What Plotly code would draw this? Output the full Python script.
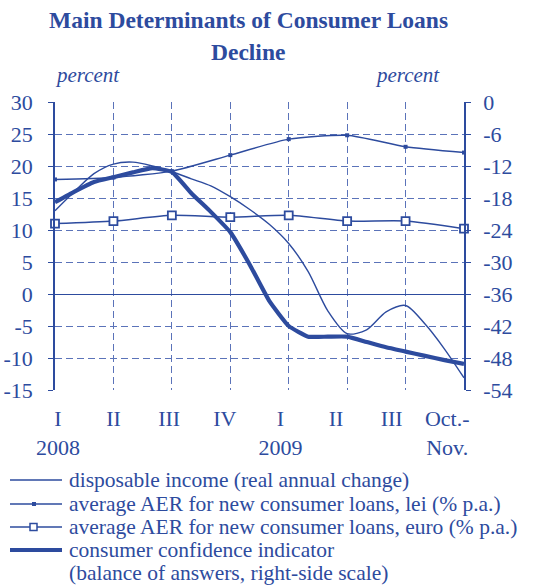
import plotly.graph_objects as go

# ---- data ----
quarter_labels = ["I", "II", "III", "IV", "I", "II", "III", "Oct.-"]
year_labels = ["2008", "", "", "", "2009", "", "", "Nov."]
quarter_pos = [0, 1, 2, 3, 4, 5, 6, 7]

# monthly observations (month index from Q I 2008 = 0, three months per quarter)
months = list(range(22))
disp_income = [13.0, 16.0, 18.8, 20.3, 20.6, 20.0, 19.1, 18.0, 16.9, 15.2, 13.2,
               10.9, 7.9, 3.5, -2.6, -6.2, -5.6, -2.8, -1.8, -4.7, -8.6, -13.1]
confidence = [-18.8, -16.8, -15.0, -14.1, -13.2, -12.4, -13.1, -17.1, -20.6, -24.4, -30.5,
              -37.3, -42.0, -44.0, -44.0, -44.0, -45.0, -46.0, -46.8, -47.6, -48.4, -49.1]

# quarterly observations
aer_lei = [17.9, 18.2, 19.2, 21.7, 24.2, 24.8, 23.0, 22.1]
aer_euro = [11.0, 11.4, 12.3, 12.0, 12.3, 11.4, 11.4, 10.2]

left_ticks = [30, 25, 20, 15, 10, 5, 0, -5, -10, -15]
right_ticks = [0, -6, -12, -18, -24, -30, -36, -42, -48, -54]

title_lines = ["Main Determinants of Consumer Loans", "Decline"]
legend_lines = ["disposable income (real annual change)",
                "average AER for new consumer loans, lei (% p.a.)",
                "average AER for new consumer loans, euro (% p.a.)",
                "consumer confidence indicator",
                "(balance of answers, right-side scale)"]

# ---- style ----
BLUE = "#2D4B9E"
GRID = "#5B73B9"
FONT = "Liberation Serif"
W, H = 549, 585
L, R, T, B = 55, 85, 102, 195
PW, PH = W - L - R, H - T - B


def px_x(px):
    return (px - L) / PW


def px_y(py):
    return (H - B - py) / PH


month_x = [m / 3 for m in months]

fig = go.Figure()

fig.add_trace(go.Scatter(
    x=month_x, y=disp_income, mode="lines", showlegend=False,
    name="disposable income (real annual change)",
    line=dict(color=BLUE, width=1.4, shape="spline", smoothing=0.8),
    cliponaxis=False))

fig.add_trace(go.Scatter(
    x=quarter_pos, y=aer_lei, mode="lines+markers", showlegend=False,
    name="average AER for new consumer loans, lei (% p.a.)",
    line=dict(color=BLUE, width=1.5, shape="spline", smoothing=0.6),
    marker=dict(symbol="square", size=4, color=BLUE, line=dict(width=0)),
    cliponaxis=False))

fig.add_trace(go.Scatter(
    x=quarter_pos, y=aer_euro, mode="lines+markers", showlegend=False,
    name="average AER for new consumer loans, euro (% p.a.)",
    line=dict(color=BLUE, width=1.5, shape="spline", smoothing=0.6),
    marker=dict(symbol="square", size=8, color="white", line=dict(width=1.8, color=BLUE)),
    cliponaxis=False))

fig.add_trace(go.Scatter(
    x=month_x, y=confidence, mode="lines", yaxis="y2", showlegend=False,
    name="consumer confidence indicator (balance of answers, right-side scale)",
    line=dict(color=BLUE, width=4.2, shape="spline", smoothing=0.4),
    cliponaxis=False))

# carrier for the category label axis (no visible marks)
fig.add_trace(go.Scatter(x=quarter_pos, y=[None] * len(quarter_pos), xaxis="x2",
                         mode="lines", showlegend=False, hoverinfo="skip"))

annotations = []
# title
for text, py in zip(title_lines, [20, 52]):
    annotations.append(dict(text="<b>" + text + "</b>", xref="paper", yref="paper",
                            x=px_x(248), y=px_y(py), xanchor="center", yanchor="middle",
                            showarrow=False, font=dict(family=FONT, size=23.5, color=BLUE)))
# axis unit labels
for px in [87, 407]:
    annotations.append(dict(text="<i>percent</i>", xref="paper", yref="paper",
                            x=px_x(px), y=px_y(75), xanchor="center", yanchor="middle",
                            showarrow=False, font=dict(family=FONT, size=21, color=BLUE)))
# legend texts
legend_rows = [480, 504, 527, 550, 573]
for text, py in zip(legend_lines, legend_rows):
    annotations.append(dict(text=text, xref="paper", yref="paper",
                            x=px_x(67), y=px_y(py), xanchor="left", yanchor="middle",
                            showarrow=False, font=dict(family=FONT, size=21.5, color=BLUE)))

# legend symbols
shapes = []
sym_w = [1.4, 1.5, 1.5, 4.2]
for i, w in enumerate(sym_w):
    py = legend_rows[i]
    shapes.append(dict(type="line", xref="paper", yref="paper",
                       x0=px_x(10), x1=px_x(62), y0=px_y(py), y1=px_y(py),
                       line=dict(color=BLUE, width=w)))
# lei dot
shapes.append(dict(type="rect", xref="paper", yref="paper",
                   x0=px_x(32), x1=px_x(36), y0=px_y(legend_rows[1] - 2), y1=px_y(legend_rows[1] + 2),
                   fillcolor=BLUE, line=dict(width=0)))
# euro open square
shapes.append(dict(type="rect", xref="paper", yref="paper",
                   x0=px_x(30), x1=px_x(37), y0=px_y(legend_rows[2] - 3.5), y1=px_y(legend_rows[2] + 3.5),
                   fillcolor="white", line=dict(width=1.5, color=BLUE)))

fig.update_layout(
    width=W, height=H,
    margin=dict(l=L, r=R, t=T, b=B),
    paper_bgcolor="white", plot_bgcolor="white",
    font=dict(family=FONT, color=BLUE, size=20),
    showlegend=False,
    xaxis=dict(range=[0, 7], tickvals=quarter_pos, showticklabels=False,
               showgrid=True, gridcolor=GRID, gridwidth=1, griddash="7px,4px",
               zeroline=False, showline=False, ticks="", automargin=False),
    xaxis2=dict(range=[-0.054, 7.302], overlaying="x", anchor="y", side="bottom",
                tickvals=quarter_pos,
                ticktext=[q + "<br>" + yl for q, yl in zip(quarter_labels, year_labels)],
                showgrid=False, zeroline=False, showline=False, ticks="",
                ticklabelstandoff=13, automargin=False,
                tickfont=dict(family=FONT, size=22, color=BLUE)),
    yaxis=dict(range=[-15, 30], tickvals=left_ticks,
               ticktext=[str(v) for v in left_ticks],
               showgrid=True, gridcolor=GRID, gridwidth=1, griddash="7px,4px",
               zeroline=True, zerolinecolor=BLUE, zerolinewidth=1.3,
               showline=True, linecolor=BLUE, linewidth=1.5,
               ticks="outside", ticklen=5, tickcolor=BLUE, tickwidth=1.3,
               ticklabelstandoff=11, automargin=False,
               tickfont=dict(family=FONT, size=22, color=BLUE)),
    yaxis2=dict(range=[-54, 0], tickvals=right_ticks,
                ticktext=[str(v) for v in right_ticks],
                overlaying="y", side="right",
                showgrid=False, zeroline=False,
                showline=True, linecolor=BLUE, linewidth=1.5,
                ticks="outside", ticklen=5, tickcolor=BLUE, tickwidth=1.3,
                ticklabelstandoff=8, automargin=False,
                tickfont=dict(family=FONT, size=22, color=BLUE)),
    annotations=annotations,
    shapes=shapes,
)

fig.write_html("out.html")
